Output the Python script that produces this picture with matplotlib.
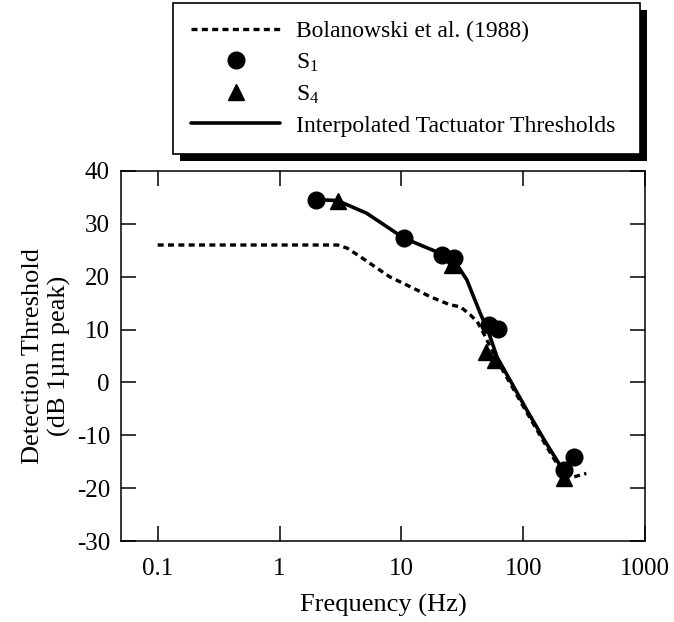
import matplotlib
matplotlib.use("Agg")
import matplotlib.pyplot as plt
from matplotlib.patches import Rectangle
from matplotlib.ticker import NullLocator

# Bolanowski et al. (1988) reference curve
bol_freq = [0.1, 3.0, 3.6, 4.8, 8.0, 13.4, 17.3, 25.0, 30.6, 36.7, 42, 48, 60, 100, 150, 200, 250, 330]
bol_db = [26, 26, 25.4, 23.5, 20.0, 17.5, 16.2, 14.7, 14.3, 12.8, 11.5, 9.0, 4.5, -4.5, -11.5, -16.3, -18.0, -17.2]

# subject thresholds
s1_freq = [2.0, 10.5, 21.5, 27.0, 52, 62, 215, 260]
s1_db = [34.6, 27.3, 24.1, 23.5, 10.9, 10.1, -16.5, -14.2]
s4_freq = [3.0, 26.0, 50, 59, 215]
s4_db = [34.3, 22.3, 5.8, 4.3, -18.1]

# interpolated tactuator thresholds
interp_freq = [2.0, 3.0, 5.2, 10.5, 21.5, 27.0, 34.5, 44.4, 52, 61, 80, 94.5, 107, 150, 215]
interp_db = [34.6, 34.4, 32.0, 27.3, 24.3, 23.2, 19.4, 13.1, 9.5, 4.8, 0.0, -3.0, -5.2, -11.0, -16.8]

xticks = [0.1, 1, 10, 100, 1000]
xtick_labels = ["0.1", "1", "10", "100", "1000"]
yticks = [-30, -20, -10, 0, 10, 20, 30, 40]

plt.rcParams["font.family"] = ["Liberation Serif", "DejaVu Serif"]
plt.rcParams["mathtext.fontset"] = "custom"
plt.rcParams["mathtext.rm"] = "Liberation Serif"
plt.rcParams["mathtext.default"] = "regular"
plt.rcParams["axes.unicode_minus"] = False

fig = plt.figure(figsize=(6.74, 6.22), dpi=100)
ax = fig.add_axes([121 / 674, 1 - 541 / 622, (645 - 121) / 674, (541 - 171) / 622])

bol, = ax.plot(bol_freq, bol_db, color="black", lw=2.4, linestyle=(0, (1.8, 1.3)))
interp, = ax.plot(interp_freq, interp_db, color="black", lw=2.6, solid_capstyle="round")
s1, = ax.plot(s1_freq, s1_db, "o", color="black", ms=12, lw=0)
s4, = ax.plot(s4_freq, s4_db, "^", color="black", ms=12, lw=0)

ax.set_xscale("log")
ax.set_xlim(0.05, 1000)
ax.set_ylim(-30, 40)
ax.set_xticks(xticks)
ax.set_xticklabels(xtick_labels)
ax.xaxis.set_minor_locator(NullLocator())
ax.set_yticks(yticks)

for sp in ax.spines.values():
    sp.set_linewidth(1.1)
ax.tick_params(direction="in", top=True, right=True, length=11, width=1.1,
               labelsize=18)
ax.tick_params(axis="x", pad=12)
ax.tick_params(axis="y", pad=8)

ax.set_xlabel("Frequency (Hz)", fontsize=19, labelpad=10)
ax.set_ylabel("Detection Threshold\n(dB 1µm peak)", fontsize=19, labelpad=4,
              linespacing=1.2)

handles = [bol, s1, s4, interp]
labels = ["Bolanowski et al. (1988)", "S$_{1}$", "S$_{4}$",
          "Interpolated Tactuator Thresholds"]
leg = fig.legend(handles, labels, loc="upper left",
                 bbox_to_anchor=(173 / 674, 1 - 3 / 622, (640 - 173) / 674, 0),
                 mode="expand", fontsize=17, frameon=True, fancybox=False,
                 framealpha=1, facecolor="white",
                 handlelength=3.8, handletextpad=0.64, labelspacing=0.4,
                 borderpad=0.75, borderaxespad=0)
leg.get_frame().set_edgecolor("black")
leg.get_frame().set_linewidth(1.2)
leg.set_zorder(5)

# drop shadow behind the legend box
fig.canvas.draw()
bb = leg.get_window_extent()
W, H = fig.bbox.width, fig.bbox.height
off = 7
shadow = Rectangle(((bb.x0 + off) / W, (bb.y0 - off) / H), bb.width / W, bb.height / H,
                   transform=fig.transFigure, facecolor="black", edgecolor="none",
                   zorder=4)
fig.patches.append(shadow)

fig.savefig("out.png", dpi=100)
